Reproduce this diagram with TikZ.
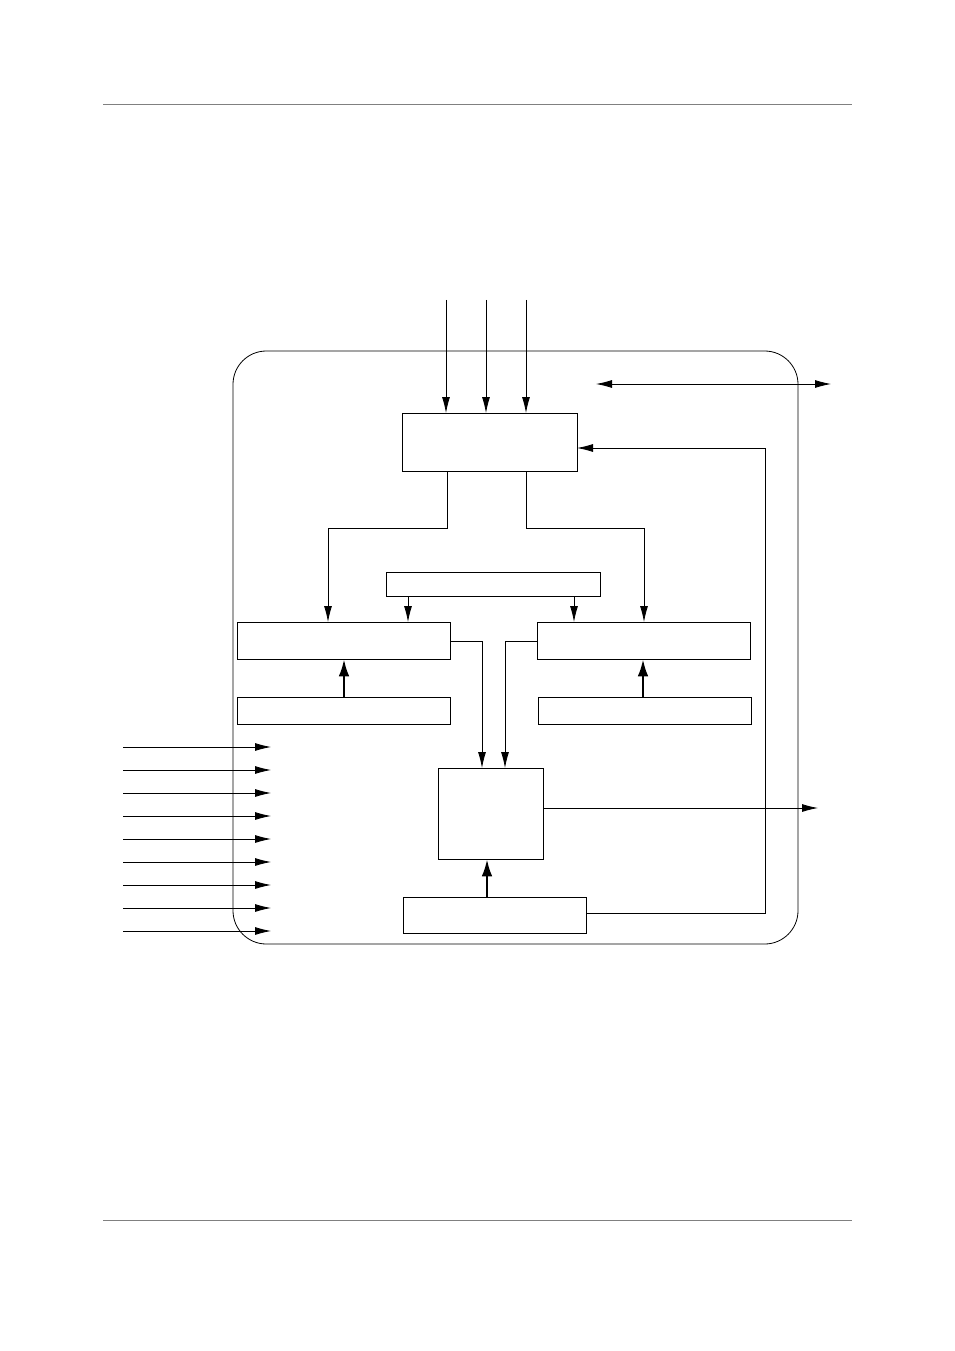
\documentclass[tikz,border=0pt]{standalone}
\usetikzlibrary{arrows.meta}
\begin{document}
\begin{tikzpicture}[x=0.75pt,y=-0.75pt,
  blk/.style={draw,line width=0.6pt},
  ar/.style={line width=0.6pt,-{Latex[length=12pt,width=6pt]}},
  thk/.style={line width=2pt,-{Latex[length=13pt,width=8pt]}}]
\useasboundingbox (0,0) rectangle (954,1351);
\draw[gray,line width=0.6pt] (103,104) -- (852,104);
\draw[gray,line width=0.6pt] (103,1220) -- (852,1220);
\draw[blk,rounded corners=25] (233,351) rectangle (798,944);
\node[blk,minimum width=175*0.75pt,minimum height=58*0.75pt,inner sep=0] (top) at (489.5,442) {};
\node[blk,minimum width=214*0.75pt,minimum height=24*0.75pt,inner sep=0] (mid) at (493,584) {};
\node[blk,minimum width=213*0.75pt,minimum height=37*0.75pt,inner sep=0] (lb) at (343.5,640.5) {};
\node[blk,minimum width=213*0.75pt,minimum height=37*0.75pt,inner sep=0] (rb) at (643.5,640.5) {};
\node[blk,minimum width=213*0.75pt,minimum height=27*0.75pt,inner sep=0] (ls) at (343.5,710.5) {};
\node[blk,minimum width=213*0.75pt,minimum height=27*0.75pt,inner sep=0] (rs) at (644.5,710.5) {};
\node[blk,minimum width=105*0.75pt,minimum height=91*0.75pt,inner sep=0] (c) at (490.5,813.5) {};
\node[blk,minimum width=183*0.75pt,minimum height=36*0.75pt,inner sep=0] (bb) at (494.5,915) {};
\foreach \x in {446,486,526}{\coordinate (i\x) at (\x,300); \draw[ar] (i\x) -- (\x,413);}
\coordinate (d1) at (596,384); \coordinate (d2) at (831,384);
\draw[line width=0.6pt,{Latex[length=12pt,width=6pt]}-{Latex[length=12pt,width=6pt]}] (d1) -- (d2);
\draw[ar] (586,913) -- (765,913) -- (765,448) -- (577,448);
\draw[ar] (447,471) -- (447,528) -- (328,528) -- (328,622);
\draw[ar] (526,471) -- (526,528) -- (644,528) -- (644,622);
\draw[ar] (408,596) -- (408,622);
\draw[ar] (574,596) -- (574,622);
\draw[thk] (344,697) -- (344,659);
\draw[thk] (643,697) -- (643,659);
\draw[thk] (487,897) -- (487,859);
\draw[ar] (450,641) -- (482,641) -- (482,768);
\draw[ar] (537,641) -- (505,641) -- (505,768);
\coordinate (o) at (818,808);
\draw[ar] (543,808) -- (o);
\foreach \y in {747,770,793,816,839,862,885,908,931}{\coordinate (l\y) at (123,\y); \draw[ar] (l\y) -- (271,\y);}
\end{tikzpicture}
\end{document}
